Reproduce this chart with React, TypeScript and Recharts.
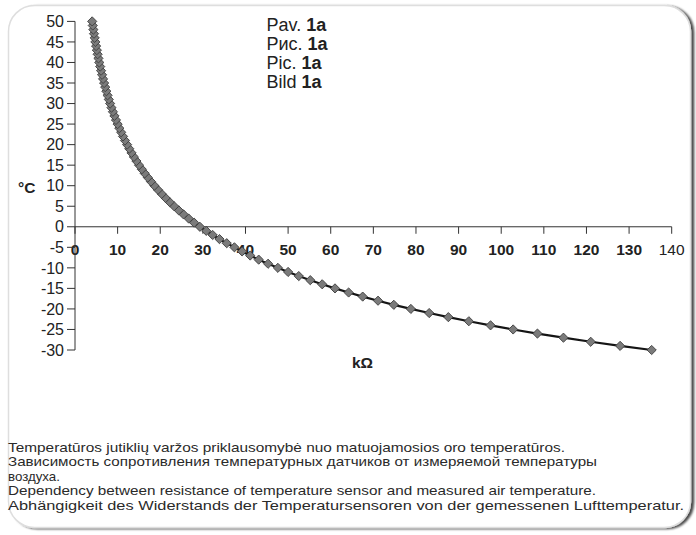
import React from 'react';
import { LineChart, Line, XAxis, YAxis, ReferenceLine } from 'recharts';

const temperatures = [
  -30, -29, -28, -27, -26, -25, -24, -23, -22, -21,
  -20, -19, -18, -17, -16, -15, -14, -13, -12, -11,
  -10, -9, -8, -7, -6, -5, -4, -3, -2, -1,
  0, 1, 2, 3, 4, 5, 6, 7, 8, 9,
  10, 11, 12, 13, 14, 15, 16, 17, 18, 19,
  20, 21, 22, 23, 24, 25, 26, 27, 28, 29,
  30, 31, 32, 33, 34, 35, 36, 37, 38, 39,
  40, 41, 42, 43, 44, 45, 46, 47, 48, 49, 50,
];

const resistances = [
  135.3, 127.9, 121.0, 114.6, 108.5, 102.8, 97.5, 92.4, 87.6, 83.1,
  78.8, 74.8, 71.1, 67.5, 64.2, 61.0, 58.0, 55.2, 52.5, 50.0,
  47.6, 45.3, 43.1, 41.1, 39.2, 37.4, 35.6, 33.9, 32.3, 30.8,
  29.3, 27.95, 26.68, 25.48, 24.34, 23.26, 22.23, 21.26, 20.34, 19.46,
  18.63, 17.83, 17.08, 16.36, 15.68, 15.03, 14.41, 13.82, 13.26, 12.73,
  12.22, 11.73, 11.27, 10.83, 10.4, 10.0, 9.61, 9.25, 8.9, 8.56,
  8.24, 7.93, 7.64, 7.36, 7.09, 6.83, 6.59, 6.35, 6.12, 5.91,
  5.7, 5.5, 5.31, 5.13, 4.95, 4.78, 4.62, 4.46, 4.31, 4.17, 4.03,
];

const xTicks = [0, 10, 20, 30, 40, 50, 60, 70, 80, 90, 100, 110, 120, 130, 140];
const yTicks = [-30, -25, -20, -15, -10, -5, 0, 5, 10, 15, 20, 25, 30, 35, 40, 45, 50];

const figurePrefixes = ['Pav.', 'Рис.', 'Pic.', 'Bild'];
const figureNumber = '1a';
const yAxisTitle = '°C';
const xAxisTitle = 'kΩ';
const captionLines = [
  'Temperatūros jutiklių varžos priklausomybė nuo matuojamosios oro temperatūros.',
  'Зависимость сопротивления температурных датчиков от измеряемой температуры',
  'воздуха.',
  'Dependency between resistance of temperature sensor and measured air temperature.',
  'Abhängigkeit des Widerstands der Temperatursensoren von der gemessenen Lufttemperatur.',
];
const captionWidths = [557, 589, 0, 588, 676];

const data = temperatures.map((t, i) => ({ t, r: resistances[i] }));

const FONT = '"Liberation Sans", Arial, Helvetica, sans-serif';
const W = 696;
const H = 535;

const Diamond = (props: any) => {
  const { cx, cy, index } = props;
  if (cx == null || cy == null) return <g key={`d-${index}`} />;
  const s = 4.6;
  return (
    <path
      key={`d-${index}`}
      d={`M${cx},${cy - s}L${cx + s},${cy}L${cx},${cy + s}L${cx - s},${cy}Z`}
      fill="#7b7b7b"
      stroke="#3c3c3c"
      strokeWidth={0.9}
    />
  );
};

const makeXTick = (v: number) => (p: any) => {
  const x = p.x1;
  const y = p.y1;
  return (
    <g>
      <line x1={x} y1={y} x2={x} y2={y + 7} stroke="#333" strokeWidth={1} />
      <text
        x={x}
        y={y + 28.5}
        textAnchor="middle"
        fontFamily={FONT}
        fontSize={15.5}
        fontWeight={v < 140 ? 'bold' : 'normal'}
        fill="#222"
      >
        {v}
      </text>
    </g>
  );
};

export default function App() {
  return (
    <div style={{ position: 'absolute', left: 0, top: 0, width: W, height: H, background: '#fff' }}>
      <svg width={W} height={H} style={{ position: 'absolute', left: 0, top: 0 }}>
        <defs>
          <filter id="shadow" x="-5%" y="-5%" width="110%" height="110%">
            <feDropShadow dx="3" dy="1" stdDeviation="1.3" floodColor="#000" floodOpacity="0.7" />
          </filter>
        </defs>
        <rect
          x={8.5}
          y={5.5}
          width={682}
          height={522}
          rx={26}
          ry={26}
          fill="#fff"
          stroke="#dedede"
          strokeWidth={1.5}
          filter="url(#shadow)"
        />
      </svg>
      <div style={{ position: 'absolute', left: 0, top: 0 }}>
        <LineChart
          width={W}
          height={H}
          data={data}
          margin={{ top: 21.4, right: 24.3, bottom: 185, left: 0 }}
        >
          <XAxis type="number" dataKey="r" domain={[0, 140]} ticks={xTicks} hide />
          <YAxis
            type="number"
            domain={[-30, 50]}
            ticks={yTicks}
            interval={0}
            width={75}
            tickSize={8}
            tickMargin={3}
            axisLine={{ stroke: '#333', strokeWidth: 1 }}
            tickLine={{ stroke: '#333', strokeWidth: 1 }}
            tick={{ fill: '#222', fontSize: 16, fontFamily: FONT }}
          />
          <ReferenceLine y={0} stroke="#333" strokeWidth={1} />
          {xTicks.map((v) => (
            <ReferenceLine
              key={`xt-${v}`}
              segment={[{ x: v, y: 0 }, { x: v, y: 0 }]}
              shape={makeXTick(v)}
            />
          ))}
          <Line
            type="linear"
            dataKey="t"
            stroke="#151515"
            strokeWidth={2.2}
            dot={Diamond}
            activeDot={false}
            isAnimationActive={false}
          />
        </LineChart>
      </div>
      <svg width={W} height={H} style={{ position: 'absolute', left: 0, top: 0, pointerEvents: 'none' }}>
        {figurePrefixes.map((p, i) => (
          <text key={p} x={266.5} y={30.5 + i * 19} fontFamily={FONT} fontSize={18} fill="#222">
            {p}{' '}
            <tspan fontWeight="bold">{figureNumber}</tspan>
          </text>
        ))}
        <text x={18} y={193} fontFamily={FONT} fontSize={15.5} fontWeight="bold" fill="#222">
          {yAxisTitle}
        </text>
        <text x={352} y={368} fontFamily={FONT} fontSize={15.5} fontWeight="bold" fill="#222">
          {xAxisTitle}
        </text>
        {captionLines.map((line, i) => (
          <text
            key={i}
            x={8}
            y={452 + i * 14.4}
            fontFamily={FONT}
            fontSize={13.3}
            fill="#2a2a2a"
            {...(captionWidths[i] > 0
              ? { textLength: captionWidths[i], lengthAdjust: 'spacingAndGlyphs' }
              : {})}
          >
            {line}
          </text>
        ))}
      </svg>
    </div>
  );
}
